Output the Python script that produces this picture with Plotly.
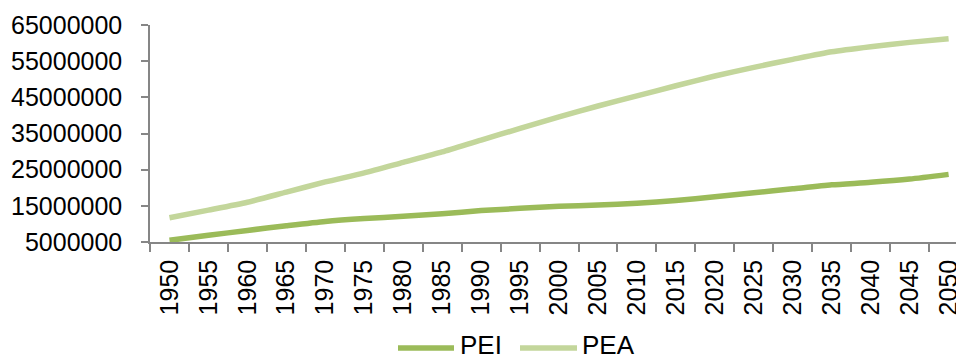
import plotly.graph_objects as go

# Population series, 1950-2050 in five-year steps
years = [str(y) for y in range(1950, 2051, 5)]
pei = [5.46e6, 6.85e6, 8.2e6, 9.5e6, 10.7e6, 11.5e6, 12.1e6, 12.8e6, 13.7e6, 14.3e6,
       14.9e6, 15.2e6, 15.7e6, 16.5e6, 17.5e6, 18.6e6, 19.7e6, 20.8e6, 21.5e6, 22.4e6, 23.7e6]
pea = [11.7e6, 13.8e6, 16.0e6, 18.8e6, 21.6e6, 24.1e6, 27.0e6, 29.9e6, 33.2e6, 36.4e6,
       39.6e6, 42.6e6, 45.4e6, 48.2e6, 50.9e6, 53.3e6, 55.5e6, 57.6e6, 59.0e6, 60.2e6, 61.2e6]
y_ticks = list(range(5000000, 65000001, 10000000))

series_names = ["PEI", "PEA"]
colors = ["#9BBB59", "#C3D69B"]

W, H = 956, 360
L, T, B = 150, 25, 118
FONT = "Liberation Sans, Arial, sans-serif"

fig = go.Figure()
for name, vals, col in zip(series_names, [pei, pea], colors):
    fig.add_trace(go.Scatter(
        x=years, y=vals, name=name, mode="lines",
        line=dict(color=col, width=5.5, shape="spline", smoothing=0.6),
        showlegend=False,
    ))

axis_col = "#868686"
fig.update_layout(
    width=W, height=H,
    margin=dict(l=L, r=0, t=T, b=B, pad=0),
    paper_bgcolor="white", plot_bgcolor="white",
    font=dict(family=FONT, size=25, color="#000000"),
    xaxis=dict(
        type="category", range=[-0.5, 20.19],
        showgrid=False, zeroline=False,
        showline=True, linecolor=axis_col, linewidth=1.5,
        ticks="outside", tickson="boundaries", ticklen=8, tickwidth=1.5, tickcolor=axis_col,
        tickangle=-90, ticklabelstandoff=6,
        tickfont=dict(family=FONT, size=25, color="#000000"),
        automargin=False,
    ),
    yaxis=dict(
        range=[5000000, 65000000],
        tickvals=y_ticks, ticktext=[str(v) for v in y_ticks],
        showgrid=False, zeroline=False,
        showline=True, linecolor=axis_col, linewidth=1.5,
        ticks="outside", ticklen=7, tickwidth=1.5, tickcolor=axis_col,
        ticklabelstandoff=14,
        tickfont=dict(family=FONT, size=25, color="#000000"),
        automargin=False,
    ),
)

# Legend drawn below the axis: line sample followed by the series name
plot_w = W - L
plot_h = H - T - B
def px_x(px):
    return (px - L) / plot_w
def px_y(py):
    return (H - B - py) / plot_h

legend_y = px_y(348)
legend_items = [(398, 454, 458), (520, 577, 580)]
for (x0, x1, xt), name, col in zip(legend_items, series_names, colors):
    fig.add_shape(type="line", xref="paper", yref="paper",
                  x0=px_x(x0), x1=px_x(x1), y0=legend_y, y1=legend_y,
                  line=dict(color=col, width=5.5))
    fig.add_annotation(xref="paper", yref="paper", x=px_x(xt), y=px_y(345),
                       text=name, showarrow=False, xanchor="left", yanchor="middle",
                       font=dict(family=FONT, size=26, color="#000000"))

fig.write_html("out.html")
